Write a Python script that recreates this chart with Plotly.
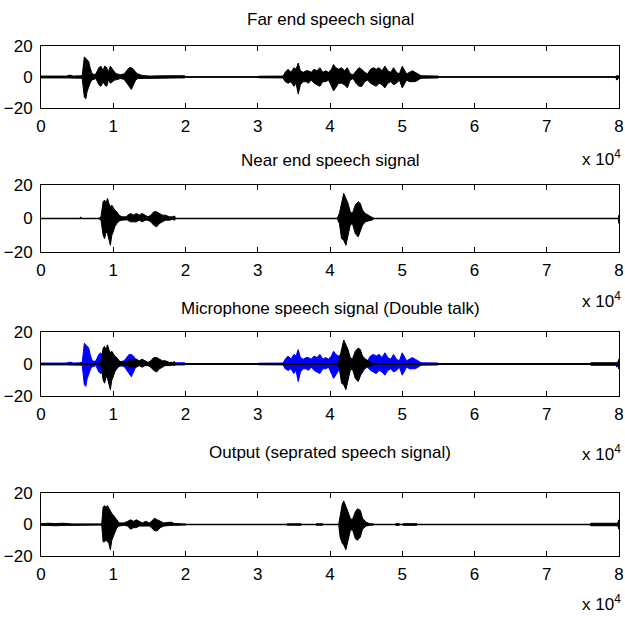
import plotly.graph_objects as go

# ---------------- data (x in units of 10^4 samples, amplitudes) ----------------
titles = ["Far end speech signal", "Near end speech signal",
          "Microphone speech signal (Double talk)", "Output (seprated speech signal)"]
x_ticks = [0, 1, 2, 3, 4, 5, 6, 7, 8]
y_ticks = [-20, 0, 20]

far_x = [0.00, 0.35, 0.40, 0.45, 0.57, 0.60, 0.62, 0.64, 0.66, 0.68, 0.70, 0.73, 0.76, 0.80, 0.83, 0.86,
         0.88, 0.91, 0.93, 0.96, 0.99, 1.02, 1.05, 1.10, 1.15, 1.19, 1.22, 1.25, 1.28, 1.31, 1.34, 1.40,
         1.50, 1.70, 1.80, 1.90, 1.99, 2.00, 3.00, 3.01, 3.35, 3.38, 3.42, 3.46, 3.50, 3.53, 3.56, 3.59,
         3.63, 3.67, 3.70, 3.74, 3.78, 3.82, 3.86, 3.90, 3.94, 3.98, 4.02, 4.05, 4.08, 4.12, 4.16, 4.20,
         4.24, 4.28, 4.32, 4.36, 4.40, 4.44, 4.48, 4.52, 4.56, 4.60, 4.64, 4.68, 4.72, 4.76, 4.80, 4.84,
         4.88, 4.92, 4.96, 5.00, 5.03, 5.06, 5.10, 5.14, 5.18, 5.22, 5.26, 5.50, 5.51, 7.95, 7.97, 8.00]
far_up = [0.6, 0.6, 1.2, 0.6, 0.8, 13, 12, 11, 10, 6, 3, 1.5, 2, 6, 7, 4,
          7, 6, 3, 7, 5, 3, 2, 1.5, 2, 4, 6, 6, 5, 3, 2, 1,
          0.6, 0.8, 1, 0.8, 0.8, 0, 0, 0.5, 0.6, 3, 5, 3, 6, 5, 9, 4,
          3, 4, 4, 3, 5, 4, 6, 3, 4, 3, 5, 8, 6, 5, 6, 4,
          6, 2, 1.5, 4, 6, 5, 3, 2, 5, 6, 5, 6, 4, 7, 4, 3,
          6, 3, 2, 7, 4, 2, 3, 4, 3, 2, 0.8, 0.6, 0, 0, 1, 0.5]
far_lo = [-0.6, -0.6, -0.6, -0.6, -0.8, -13, -14, -9, -6, -4, -2, -1.5, -1, -5, -6, -3,
          -5, -6, -2, -4, -3, -2, -1.5, -1, -1.5, -4, -6, -8, -5, -2, -1, -1,
          -0.6, -0.6, -0.6, -0.6, -0.6, 0, 0, -0.5, -0.6, -3, -4, -3, -6, -4, -11, -5,
          -3, -3, -4, -2, -4, -5, -6, -3, -3, -2, -6, -9, -7, -4, -4, -5,
          -7, -2, -1, -4, -6, -6, -3, -2, -4, -5, -6, -4, -5, -7, -4, -3,
          -5, -4, -2, -7, -5, -2, -3, -3, -3, -2, -0.8, -0.6, 0, 0, -2, -0.5]

near_x = [0.00, 0.54, 0.55, 0.56, 0.80, 0.83, 0.86, 0.88, 0.90, 0.92, 0.94, 0.96, 0.98, 1.00, 1.02, 1.05,
          1.08, 1.12, 1.18, 1.20, 1.24, 1.28, 1.32, 1.36, 1.40, 1.44, 1.48, 1.52, 1.56, 1.60, 1.64, 1.68,
          1.72, 1.78, 1.82, 1.85, 1.86, 4.10, 4.13, 4.16, 4.19, 4.22, 4.25, 4.28, 4.31, 4.35, 4.39, 4.42,
          4.45, 4.49, 4.53, 4.58, 4.60, 4.61, 7.99, 8.00]
near_up = [0, 0, 1, 0, 0, 1, 10, 11, 9, 12, 9, 7, 8, 6, 5, 4,
           2, 1, 1, 2, 3, 2, 3, 2, 3, 2, 1, 2, 4, 4, 3, 2,
           2, 1, 1, 1.5, 0, 0, 3, 10, 15, 12, 9, 4, 3, 8, 10, 9,
           5, 3, 2, 1, 0.5, 0, 0, 2]
near_lo = [0, 0, 0, 0, 0, -1, -10, -12, -8, -9, -13, -16, -10, -8, -5, -3,
           -1.5, -1, -0.8, -1, -2, -2, -2, -1, -2, -1, -1, -2, -4, -5, -3, -2,
           -1, -1, -0.5, -1, 0, 0, -3, -12, -13, -16, -10, -4, -3, -9, -11, -7,
           -4, -2, -1.5, -1, -0.5, 0, 0, -3]

tail_x = [7.60, 7.61, 7.98, 8.00]
tail_up = [0, 0.8, 0.8, 3]
tail_lo = [0, -0.8, -0.8, -3]

out_x = [0.00, 0.10, 0.20, 0.30, 0.40, 0.42, 0.84, 0.86, 0.88, 0.90, 0.92, 0.94, 0.96, 0.98, 1.00, 1.02,
         1.05, 1.08, 1.15, 1.20, 1.24, 1.28, 1.32, 1.36, 1.40, 1.45, 1.50, 1.53, 1.57, 1.61, 1.65, 1.70,
         1.80, 1.85, 2.00, 2.01, 3.40, 3.41, 3.60, 3.61, 3.80, 3.81, 3.90, 3.91, 4.12, 4.14, 4.17, 4.19,
         4.22, 4.25, 4.28, 4.31, 4.35, 4.38, 4.42, 4.45, 4.50, 4.55, 4.60, 4.61, 4.90, 4.91, 4.96, 4.97,
         5.00, 5.01, 5.20, 5.21, 7.60, 7.61, 7.98, 8.00]
out_up = [0.5, 0.8, 0.6, 0.8, 0.5, 0.3, 0.3, 11, 12, 11, 12, 10, 8, 7, 6, 5,
          3, 1, 1, 2, 3, 2, 3, 2, 1, 2, 1, 2, 4, 3, 2, 1,
          1.5, 0.6, 0.3, 0, 0, 0.4, 0.4, 0, 0, 0.4, 0.4, 0, 0, 6, 13, 15,
          12, 8, 4, 3, 8, 10, 9, 4, 1.5, 0.5, 0.3, 0, 0, 0.5, 0.5, 0,
          0, 0.5, 0.5, 0, 0, 0.8, 0.8, 3]
out_lo = [-0.5, -0.6, -0.8, -0.6, -0.5, -0.3, -0.3, -11, -11, -10, -11, -12, -16, -10, -7, -5,
          -2, -1, -0.5, -1, -3, -2, -2, -1, -1, -1, -1, -2, -4, -4, -2, -1,
          -0.5, -0.5, -0.3, 0, 0, -0.4, -0.4, 0, 0, -0.4, -0.4, 0, 0, -8, -12, -13,
          -16, -10, -4, -3, -9, -10, -8, -3, -1, -0.5, -0.3, 0, 0, -0.5, -0.5, 0,
          0, -0.5, -0.5, 0, 0, -0.8, -0.8, -3]

# ---------------- layout geometry (pixels) ----------------
W, H = 625, 619
box_left, box_right = 41, 619
box_tops = [46, 185, 332, 493]
box_bottoms = [108, 252, 396, 556]
title_y = [20, 160, 308, 453]
exp_y = [158, 300, 453, 603]
FONT = "Liberation Sans"
FS = 17


def py(p):
    return 1 - p / H


fig = go.Figure()


def envelope(x, up, lo, color, axis):
    xs = list(x) + list(x)[::-1]
    ys = list(up) + list(lo)[::-1]
    fig.add_trace(go.Scatter(x=xs, y=ys, mode="lines", fill="toself",
                             fillcolor=color, line=dict(color=color, width=1),
                             xaxis="x" + axis, yaxis="y" + axis,
                             hoverinfo="skip", showlegend=False))


def baseline(color, axis):
    fig.add_trace(go.Scatter(x=[x_ticks[0], x_ticks[-1]], y=[0, 0], mode="lines",
                             line=dict(color=color, width=1.5),
                             xaxis="x" + axis, yaxis="y" + axis,
                             hoverinfo="skip", showlegend=False))


# panel 1
baseline("black", "")
envelope(far_x, far_up, far_lo, "black", "")
# panel 2
baseline("black", "2")
envelope(near_x, near_up, near_lo, "black", "2")
# panel 3
baseline("blue", "3")
envelope(far_x, far_up, far_lo, "blue", "3")
baseline("black", "3")
envelope(near_x, near_up, near_lo, "black", "3")
envelope(tail_x, tail_up, tail_lo, "black", "3")
# panel 4
baseline("black", "4")
envelope(out_x, out_up, out_lo, "black", "4")

axis_common = dict(showline=True, linecolor="black", linewidth=1, mirror="ticks",
                   ticks="inside", ticklen=5, tickcolor="black", showgrid=False,
                   zeroline=False, automargin=False, ticklabeloverflow="allow",
                   tickfont=dict(family=FONT, size=FS, color="black"))

layout = dict(width=W, height=H, margin=dict(l=0, r=0, t=0, b=0, autoexpand=False),
              paper_bgcolor="white", plot_bgcolor="white", showlegend=False,
              font=dict(family=FONT, size=FS, color="black"))

annotations = []
for i in range(4):
    sfx = "" if i == 0 else str(i + 1)
    layout["xaxis" + sfx] = dict(axis_common, domain=[box_left / W, box_right / W],
                                 range=[x_ticks[0], x_ticks[-1]], tickvals=x_ticks,
                                 anchor="y" + sfx, ticklabelstandoff=3)
    layout["yaxis" + sfx] = dict(axis_common, domain=[py(box_bottoms[i]), py(box_tops[i])],
                                 range=[y_ticks[0], y_ticks[-1]], tickvals=y_ticks,
                                 anchor="x" + sfx, ticklabelstandoff=4)
    annotations.append(dict(text=titles[i], x=(box_left + box_right) / 2 / W, y=py(title_y[i]),
                            xref="paper", yref="paper", showarrow=False,
                            xanchor="center", yanchor="middle",
                            font=dict(family=FONT, size=FS, color="black")))
    annotations.append(dict(text="x 10<sup>4</sup>", x=(box_right + 4) / W, y=py(exp_y[i]),
                            xref="paper", yref="paper", showarrow=False,
                            xanchor="right", yanchor="middle",
                            font=dict(family=FONT, size=FS, color="black")))
layout["annotations"] = annotations
fig.update_layout(**layout)

fig.write_html("out.html", config={"displayModeBar": False},
               post_script="document.body.style.margin='0';document.body.style.overflow='hidden';")
